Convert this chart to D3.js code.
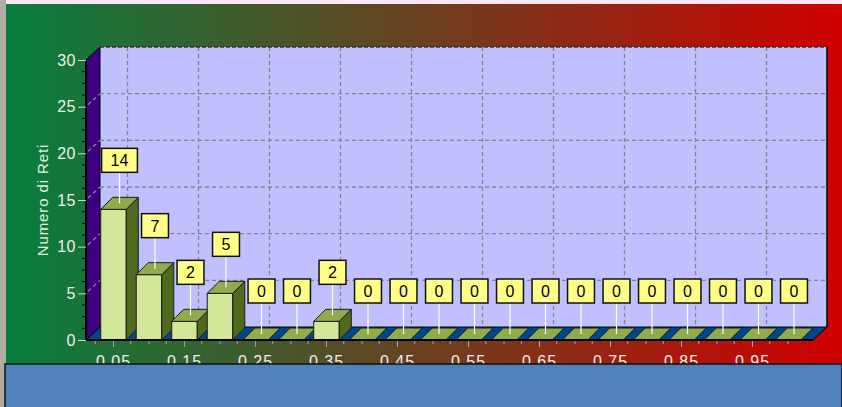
<!DOCTYPE html>
<html>
<head>
<meta charset="utf-8">
<script src="https://cdn.jsdelivr.net/npm/d3@7"></script>
<style>
  body { margin: 0; background: #fff; }
  svg { display: block; font-family: "Liberation Sans", Arial, sans-serif; }
</style>
</head>
<body>
<div id="chart"></div>
<script>
// data
const categories = ['0.05', '0.1', '0.15', '0.2', '0.25', '0.3', '0.35', '0.4', '0.45', '0.5',
  '0.55', '0.6', '0.65', '0.7', '0.75', '0.8', '0.85', '0.9', '0.95', '1'];
const values = [14, 7, 2, 5, 0, 0, 2, 0, 0, 0, 0, 0, 0, 0, 0, 0, 0, 0, 0, 0];
const xTickLabels = ['0.05', '0.15', '0.25', '0.35', '0.45', '0.55', '0.65', '0.75', '0.85', '0.95'];
const yTicks = [0, 5, 10, 15, 20, 25, 30];
const yTitle = 'Numero di Reti';

const width = 842, height = 407;
const plot = { left: 86, right: 813, top: 60, bottom: 340 };
const wall = { dx: 14, dy: 13 }; // 3d depth of walls / floor
const bar = { dx: 12, dy: 12 };  // 3d depth of bars

const svg = d3.select('#chart').append('svg')
  .attr('width', width).attr('height', height);

const defs = svg.append('defs');
const grad = defs.append('linearGradient').attr('id', 'bg').attr('x1', 0).attr('x2', 1);
grad.append('stop').attr('offset', 0).attr('stop-color', '#067f3e');
grad.append('stop').attr('offset', 1).attr('stop-color', '#d00000');

defs.append('clipPath').attr('id', 'clipTop')
  .append('rect').attr('x', 0).attr('y', 0).attr('width', width).attr('height', 364);

// frame
svg.append('rect').attr('width', width).attr('height', height).attr('fill', '#b2aca4');
svg.append('rect').attr('x', 6).attr('y', 0).attr('width', width - 6).attr('height', 4).attr('fill', '#fbe8f6');
svg.append('rect').attr('x', 6).attr('y', 4).attr('width', width - 6).attr('height', 362).attr('fill', 'url(#bg)');

// scales
const x = d3.scaleBand().domain(categories)
  .range([95.75, 805.75]).paddingInner(0.28).paddingOuter(0.14);
const y = d3.scaleLinear().domain([0, 30]).range([plot.bottom, plot.top]);
const bw = x.bandwidth();
const cx = (c) => x(c) + bw / 2;

// back wall
svg.append('rect')
  .attr('x', plot.left + wall.dx).attr('y', y(30) - wall.dy)
  .attr('width', plot.right - plot.left).attr('height', plot.bottom - plot.top)
  .attr('fill', '#c0c0ff');

// left side wall
svg.append('polygon')
  .attr('points', [[plot.left, y(30)], [plot.left + wall.dx, y(30) - wall.dy],
    [plot.left + wall.dx, plot.bottom - wall.dy], [plot.left, plot.bottom]].join(' '))
  .attr('fill', '#3c0080').attr('stroke', '#000').attr('stroke-width', 1);

// grid lines on back wall + side wall
const grid = svg.append('g').attr('stroke', '#858592').attr('stroke-width', 1.3)
  .attr('stroke-dasharray', '4,3').attr('fill', 'none');
yTicks.filter((d) => d > 0 && d < 30).forEach((d) => {
  grid.append('line')
    .attr('x1', plot.left + wall.dx).attr('x2', plot.right + wall.dx)
    .attr('y1', y(d) - wall.dy).attr('y2', y(d) - wall.dy);
  grid.append('line')
    .attr('x1', plot.left + 2).attr('x2', plot.left + wall.dx)
    .attr('y1', y(d) - 2).attr('y2', y(d) - wall.dy);
});
xTickLabels.forEach((c) => {
  grid.append('line')
    .attr('x1', cx(c) + wall.dx).attr('x2', cx(c) + wall.dx)
    .attr('y1', y(30) - wall.dy).attr('y2', plot.bottom - wall.dy);
});

// wall borders
svg.append('line')
  .attr('x1', plot.left + wall.dx).attr('x2', plot.right + wall.dx)
  .attr('y1', y(30) - wall.dy).attr('y2', y(30) - wall.dy)
  .attr('stroke', '#333').attr('stroke-width', 1.5).attr('stroke-dasharray', '4,2');
svg.append('line')
  .attr('x1', plot.right + wall.dx).attr('x2', plot.right + wall.dx)
  .attr('y1', y(30) - wall.dy).attr('y2', plot.bottom - wall.dy)
  .attr('stroke', '#000').attr('stroke-width', 1.5);

// floor
svg.append('polygon')
  .attr('points', [[plot.left, plot.bottom], [plot.left + wall.dx, plot.bottom - wall.dy],
    [plot.right + wall.dx, plot.bottom - wall.dy], [plot.right, plot.bottom]].join(' '))
  .attr('fill', '#00468c').attr('stroke', '#000').attr('stroke-width', 1);

// bars
const bars = svg.append('g').attr('stroke', '#1a1a1a').attr('stroke-width', 1).attr('stroke-linejoin', 'round');
categories.forEach((c, i) => {
  const x0 = x(c), x1 = x0 + bw, yt = y(values[i]), yb = y(0);
  if (values[i] > 0) {
    bars.append('rect').attr('x', x0).attr('y', yt).attr('width', bw).attr('height', yb - yt)
      .attr('fill', '#d2e79a');
    bars.append('polygon')
      .attr('points', [[x1, yt], [x1 + bar.dx, yt - bar.dy], [x1 + bar.dx, yb - bar.dy], [x1, yb]].join(' '))
      .attr('fill', '#4f6a1c');
  }
  bars.append('polygon')
    .attr('points', [[x0, yt], [x0 + bar.dx, yt - bar.dy], [x1 + bar.dx, yt - bar.dy], [x1, yt]].join(' '))
    .attr('fill', '#8fab4c');
});

// y axis
svg.append('line')
  .attr('x1', plot.left).attr('x2', plot.left).attr('y1', plot.top).attr('y2', plot.bottom)
  .attr('stroke', '#000').attr('stroke-width', 2);
const yAxis = svg.append('g').attr('transform', `translate(${plot.left},0)`)
  .call(d3.axisLeft(y).tickValues(yTicks).tickSize(8).tickPadding(2));
yAxis.select('.domain').remove();
yAxis.selectAll('line').attr('stroke', '#d0d0d0');
yAxis.selectAll('text').attr('fill', '#eeeeee').attr('font-size', 16)
  .attr('letter-spacing', 0.5).attr('font-family', '"Liberation Sans", Arial, sans-serif');
// minor ticks
svg.append('g').selectAll('line')
  .data(d3.range(0, 30, 1.25).filter((d) => d % 5 !== 0))
  .join('line')
  .attr('x1', plot.left - 4).attr('x2', plot.left)
  .attr('y1', (d) => y(d)).attr('y2', (d) => y(d))
  .attr('stroke', '#000').attr('stroke-width', 1);

// x axis
svg.append('line')
  .attr('x1', plot.left).attr('x2', plot.right).attr('y1', plot.bottom).attr('y2', plot.bottom)
  .attr('stroke', '#000').attr('stroke-width', 2);
const xTicksG = svg.append('g').attr('stroke', '#a8a8a8').attr('stroke-width', 1);
categories.forEach((c) => {
  const major = xTickLabels.includes(c);
  xTicksG.append('line').attr('x1', cx(c)).attr('x2', cx(c))
    .attr('y1', plot.bottom + 1).attr('y2', plot.bottom + (major ? 7 : 4));
  xTicksG.append('line').attr('x1', x(c) - x.step() * x.paddingInner() / 2 - 0.5)
    .attr('x2', x(c) - x.step() * x.paddingInner() / 2 - 0.5)
    .attr('y1', plot.bottom + 1).attr('y2', plot.bottom + 4);
});
svg.append('g').attr('clip-path', 'url(#clipTop)')
  .selectAll('text').data(xTickLabels).join('text')
  .attr('x', (d) => cx(d)).attr('y', 366.5)
  .attr('text-anchor', 'middle').attr('font-size', 16).attr('letter-spacing', 1)
  .attr('fill', '#eeeeee').text((d) => d);

// y title
svg.append('text')
  .attr('transform', 'translate(48,200) rotate(-90)')
  .attr('text-anchor', 'middle').attr('font-size', 15).attr('letter-spacing', 0.9)
  .attr('fill', '#e6f0e6').text(yTitle);

// value labels
const labels = svg.append('g');
categories.forEach((c, i) => {
  const px = cx(c) + bar.dx / 2;
  const py = y(values[i]) - bar.dy / 2;
  const g = labels.append('g');
  g.append('line').attr('x1', px).attr('x2', px).attr('y1', py).attr('y2', py - 31)
    .attr('stroke', '#ffffff').attr('stroke-width', 1.2);
  const t = g.append('text').attr('x', px).attr('y', py - 31 - 6)
    .attr('text-anchor', 'middle').attr('font-size', 16).attr('fill', '#000')
    .text(values[i]);
  const tw = t.node().getComputedTextLength();
  g.insert('rect', 'text')
    .attr('x', px - (tw + 18) / 2).attr('y', py - 31 - 24)
    .attr('width', tw + 18).attr('height', 24)
    .attr('fill', '#ffff88').attr('stroke', '#111').attr('stroke-width', 1.5);
});

// bottom blue panel
svg.append('rect').attr('x', 5).attr('y', 364).attr('width', width - 5).attr('height', 44)
  .attr('fill', '#4f81bd').attr('stroke', '#111').attr('stroke-width', 1.5);
</script>
</body>
</html>
